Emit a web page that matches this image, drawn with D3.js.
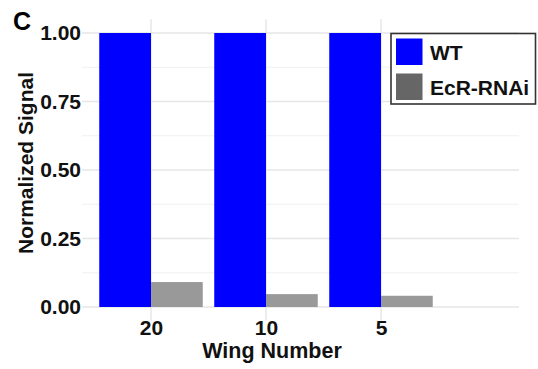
<!DOCTYPE html>
<html>
<head>
<meta charset="utf-8">
<script src="https://cdn.jsdelivr.net/npm/d3@7"></script>
<style>
  html, body { margin: 0; padding: 0; background: #fff; }
  svg { display: block; font-family: "Liberation Sans", Arial, sans-serif; }
</style>
</head>
<body>
<svg id="chart" width="538" height="369"></svg>
<script>
// Wing-number titration: normalized signal for WT vs EcR-RNAi
const categories = ["20", "10", "5"];
const seriesNames = ["WT", "EcR-RNAi"];
const wtValues = [1.00, 1.00, 1.00];
const rnaiValues = [0.091, 0.047, 0.041];
const yTicks = [0, 0.25, 0.5, 0.75, 1.0];
const yMinor = [0.125, 0.375, 0.625, 0.875];

const barColors = ["#0000ff", "#999999"];
const keyColors = ["#0000ff", "#666666"];

const svg = d3.select("#chart");

// panel: discrete x with 0.6 unit expansion on the left, y with 5% expansion
const x = d3.scaleLinear().domain([0.4, 4.2]).range([82, 519]);
const y = d3.scaleLinear().domain([-0.05, 1.05]).range([320.7, 19.3]);

const grid = svg.append("g");
grid.selectAll("line.minor").data(yMinor).join("line")
  .attr("x1", x(0.4)).attr("x2", x(4.2))
  .attr("y1", d => y(d)).attr("y2", d => y(d))
  .attr("stroke", "#f0f0f0").attr("stroke-width", 1);
grid.selectAll("line.major").data(yTicks).join("line")
  .attr("x1", x(0.4)).attr("x2", x(4.2))
  .attr("y1", d => y(d)).attr("y2", d => y(d))
  .attr("stroke", "#e6e6e6").attr("stroke-width", 1.4);
grid.selectAll("line.vert").data(categories).join("line")
  .attr("x1", (d, i) => x(i + 1)).attr("x2", (d, i) => x(i + 1))
  .attr("y1", y(1.05)).attr("y2", y(-0.05))
  .attr("stroke", "#e6e6e6").attr("stroke-width", 1.4);

// dodged bars, each 0.45 units wide
const barW = 0.45;
const rows = categories.map((c, i) => ({ i, values: [wtValues[i], rnaiValues[i]] }));
const bars = svg.append("g");
rows.forEach(r => {
  r.values.forEach((v, s) => {
    const x0 = r.i + 1 - barW + s * barW;
    bars.append("rect")
      .attr("x", x(x0))
      .attr("width", x(x0 + barW) - x(x0))
      .attr("y", y(v))
      .attr("height", y(0) - y(v))
      .attr("fill", barColors[s]);
  });
});

const FS = 21;

// y axis labels
const yAxis = d3.axisLeft(y).tickValues(yTicks).tickFormat(d3.format(".2f")).tickSize(0).tickPadding(1);
const gy = svg.append("g").attr("transform", `translate(${x(0.4)},0)`).call(yAxis);
gy.select(".domain").remove();
gy.selectAll("text").attr("font-size", FS).attr("font-weight", "bold").attr("fill", "#111")
  .attr("font-family", "Liberation Sans, Arial, sans-serif");

// x axis labels
const xAxis = d3.axisBottom(x).tickValues([1, 2, 3]).tickFormat((d) => categories[d - 1]).tickSize(0).tickPadding(0);
const gx = svg.append("g").attr("transform", `translate(0,${y(-0.05)})`).call(xAxis);
gx.select(".domain").remove();
gx.selectAll("text").attr("font-size", FS).attr("font-weight", "bold").attr("fill", "#111")
  .attr("dy", null).attr("y", 14.5)
  .attr("font-family", "Liberation Sans, Arial, sans-serif");

// axis titles
svg.append("text")
  .attr("x", 272).attr("y", 358)
  .attr("text-anchor", "middle")
  .attr("font-size", FS + 0.5).attr("font-weight", "bold").attr("fill", "#111")
  .text("Wing Number");
svg.append("text")
  .attr("transform", "translate(32.5,163) rotate(-90)")
  .attr("text-anchor", "middle")
  .attr("font-size", FS).attr("font-weight", "bold").attr("fill", "#111")
  .text("Normalized Signal");

// panel tag
svg.append("text")
  .attr("x", 13).attr("y", 30)
  .attr("font-size", 25).attr("font-weight", "bold").attr("fill", "#000")
  .text("C");

// legend
const lg = svg.append("g").attr("transform", "translate(391,33.5)");
lg.append("rect").attr("width", 144.5).attr("height", 70.5)
  .attr("fill", "#fff").attr("stroke", "#333").attr("stroke-width", 1.6);
seriesNames.forEach((name, s) => {
  lg.append("rect")
    .attr("x", 5).attr("y", 5 + s * 35)
    .attr("width", 26.5).attr("height", 26.5)
    .attr("fill", keyColors[s]);
  lg.append("text")
    .attr("x", 39).attr("y", 26 + s * 35)
    .attr("font-size", FS).attr("font-weight", "bold").attr("fill", "#111")
    .text(name);
});
</script>
</body>
</html>
